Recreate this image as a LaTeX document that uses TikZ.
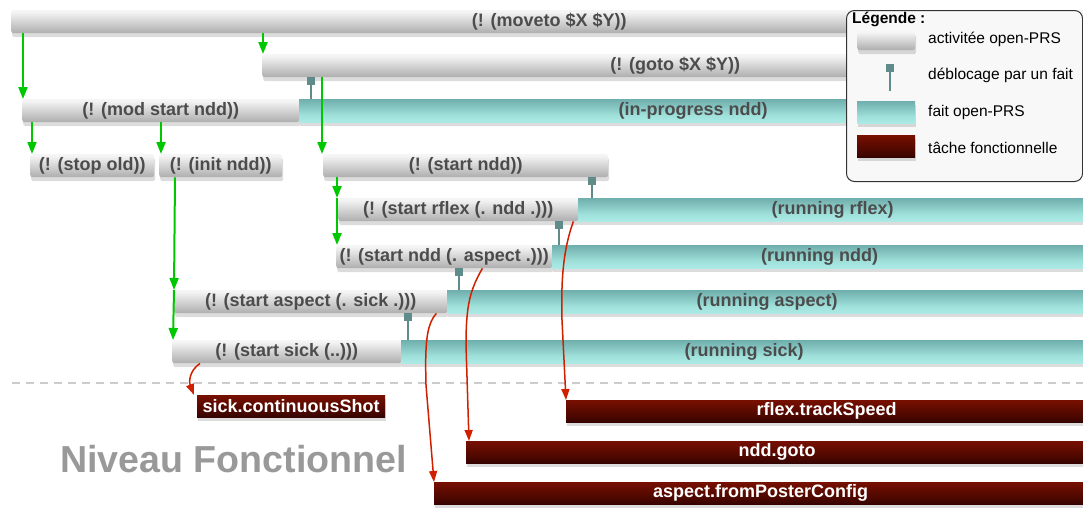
\documentclass[tikz,border=0pt]{standalone}
\usepackage{fontspec}
\setmainfont{Liberation Sans}
\usetikzlibrary{arrows.meta,shadows,calc}
\definecolor{lbl}{HTML}{4C4C4C}
\definecolor{grn}{HTML}{00C800}
\definecolor{pinc}{HTML}{5F8B8B}
\definecolor{redc}{HTML}{D02000}
\definecolor{niveau}{HTML}{999999}
\definecolor{legfill}{HTML}{F8F8F8}
\pgfdeclareverticalshading{actshade}{100bp}{color(0bp)=(black!50); color(25bp)=(black!32); color(72bp)=(black!4); color(88bp)=(black!3); color(100bp)=(black!14)}
\pgfdeclareverticalshading{factshade}{100bp}{color(0bp)=(rgb,255:red,192;green,250;blue,244); color(40bp)=(rgb,255:red,160;green,225;blue,220); color(100bp)=(rgb,255:red,76;green,138;blue,138)}
\pgfdeclareverticalshading{funshade}{100bp}{color(0bp)=(rgb,255:red,10;green,0;blue,0); color(35bp)=(rgb,255:red,70;green,6;blue,0); color(100bp)=(rgb,255:red,150;green,22;blue,0)}
\begin{document}
\begin{tikzpicture}[x=1pt,y=-1pt,
  bar/.style={anchor=north west, inner sep=0pt, minimum height=23pt, text=lbl,
    font=\fontsize{18}{20}\selectfont\bfseries,
    drop shadow={opacity=0.28, shadow xshift=1pt, shadow yshift=-4pt}},
  act/.style={bar, rounded corners=2.5pt, shading=actshade, minimum width=#1pt},
  fact/.style={bar, shading=factshade, minimum width=#1pt},
  fun/.style={bar, shading=funshade, text=white, minimum height=22pt, minimum width=#1pt},
  pinsq/.style={fill=pinc, minimum size=8pt, inner sep=0pt, anchor=north},
  pinline/.style={draw=pinc, line width=2pt},
  garrow/.style={draw=grn, line width=2pt, -{Triangle[width=9pt,length=12pt]}},
  rarrow/.style={draw=redc, line width=1.5pt, -{Triangle[width=8pt,length=11pt]}},
  legtext/.style={anchor=west, inner sep=0pt, font=\fontsize{15.5}{17}\selectfont}
]
\useasboundingbox (0,0) rectangle (1083,507);
\clip (0,0) rectangle (1083,507);

% dashed separator
\coordinate (dashL) at (12,383);
\coordinate (dashR) at (1083,383);
\draw[gray!40, line width=1.5pt, dash pattern=on 8pt off 6pt] (dashL) -- (dashR);

% activities and facts
\node[act=1076] (moveto) at (11,10) {(! (moveto \$X \$Y))};
\node[act=826] (goto) at (262,54) {(! (goto \$X \$Y))};
\node[act=277] (mod) at (22,99) {(! (mod start ndd))};
\node[fact=788] (inprog) at (299,99) {(in-progress ndd)};
\node[act=124] (stopold) at (30,154) {(! (stop old))};
\node[act=123] (initndd) at (159,154) {(! (init ndd))};
\node[act=285] (startndd) at (323,154) {(! (start ndd))};
\node[act=240] (startrflex) at (338,198) {(! (start rflex (. ndd .)))};
\node[fact=509] (runrflex) at (578,198) {(running rflex)};
\node[act=216] (startnddasp) at (336,245) {(! (start ndd (. aspect .)))};
\node[fact=535] (runndd) at (552,245) {(running ndd)};
\node[act=273] (startasp) at (174,290) {(! (start aspect (. sick .)))};
\node[fact=640] (runasp) at (447,290) {(running aspect)};
\node[act=229] (startsick) at (172,340) {(! (start sick (..)))};
\node[fact=686] (runsick) at (401,340) {(running sick)};

% functional tasks
\node[fun=188] (sickcs) at (197,395) {sick.continuousShot};
\node[fun=521] (rflexts) at (566,400) {rflex.trackSpeed};
\node[fun=622] (nddgoto) at (466,441) {ndd.goto};
\node[fun=653] (aspfpc) at (434,482) {aspect.fromPosterConfig};

\node[anchor=base, inner sep=0pt, text=niveau, font=\fontsize{37.6}{40}\selectfont\bfseries] (niv) at (233.5,472) {Niveau Fonctionnel};

% unblocking pins
\node[pinsq] (pa) at (311,77) {};
\draw[pinline] (pa.south) -- (pa.south |- inprog.north);
\node[pinsq] (pb) at (592,177) {};
\draw[pinline] (pb.south) -- (pb.south |- runrflex.north);
\node[pinsq] (pc) at (559,221) {};
\draw[pinline] (pc.south) -- (pc.south |- runndd.north);
\node[pinsq] (pd) at (459,268) {};
\draw[pinline] (pd.south) -- (pd.south |- runasp.north);
\node[pinsq] (pe) at (408,313) {};
\draw[pinline] (pe.south) -- (pe.south |- runsick.north);

% green arrows
\draw[garrow] ([xshift=12pt]moveto.south west) -- ([xshift=1pt]mod.north west);
\draw[garrow] ([xshift=252pt]moveto.south west) -- ([xshift=1pt]goto.north west);
\draw[garrow] ([xshift=60pt]goto.south west) -- ([xshift=-1pt]startndd.north west);
\draw[garrow] ([xshift=10pt]mod.south west) -- ([xshift=2pt]stopold.north west);
\draw[garrow] ([xshift=139pt]mod.south west) -- ([xshift=2pt]initndd.north west);
\draw[garrow] ([xshift=16pt]initndd.south west) -- (startasp.north west);
\draw[garrow] (startasp.north west) -- ([xshift=1pt]startsick.north west);
\draw[garrow] ([xshift=14pt]startndd.south west) -- ([xshift=-1pt]startrflex.north west);
\draw[garrow] ([xshift=-1pt]startrflex.north west) -- ([xshift=1pt]startnddasp.north west);

% red arrows
\draw[rarrow] ([xshift=28pt]startsick.south west) .. controls (189,371) and (189,382) .. ([xshift=-3pt]sickcs.north west);
\draw[rarrow] ([xshift=-11pt]startasp.south east) .. controls (426,325) and (425,345) .. (426,385) -- (aspfpc.north west);
\draw[rarrow] ([xshift=-70pt]startnddasp.south east) .. controls (470,290) and (466,305) .. (466,345) -- ([xshift=3pt]nddgoto.north west);
\draw[rarrow] ([xshift=-5pt]startrflex.south east) .. controls (563,250) and (561,280) .. (562,320) -- (rflexts.north west);

% legend
\node[draw=black!80, line width=1pt, rounded corners=8pt, fill=legfill, minimum width=236pt, minimum height=171pt, anchor=north west, inner sep=0pt] (legend) at (846,10) {};
\node[anchor=base west, inner sep=0pt, font=\fontsize{15.5}{17}\selectfont\bfseries] (legtitle) at (852,23) {Légende :};
\node[act=58, minimum height=19pt] (legact) at (857,31) {};
\node[legtext] (legacttxt) at (928,39) {activitée open-PRS};
\node[pinsq] (legpin) at (889.5,64) {};
\coordinate (legpinend) at (889.5,91);
\draw[pinline] (legpin.south) -- (legpinend);
\node[legtext] (legpintxt) at (928,75) {déblocage par un fait};
\node[fact=58, minimum height=22pt] (legfact) at (857,101) {};
\node[legtext] (legfacttxt) at (928,112) {fait open-PRS};
\node[fun=58] (legfun) at (857,135) {};
\node[legtext] (legfuntxt) at (928,148) {tâche fonctionnelle};
\end{tikzpicture}
\end{document}
